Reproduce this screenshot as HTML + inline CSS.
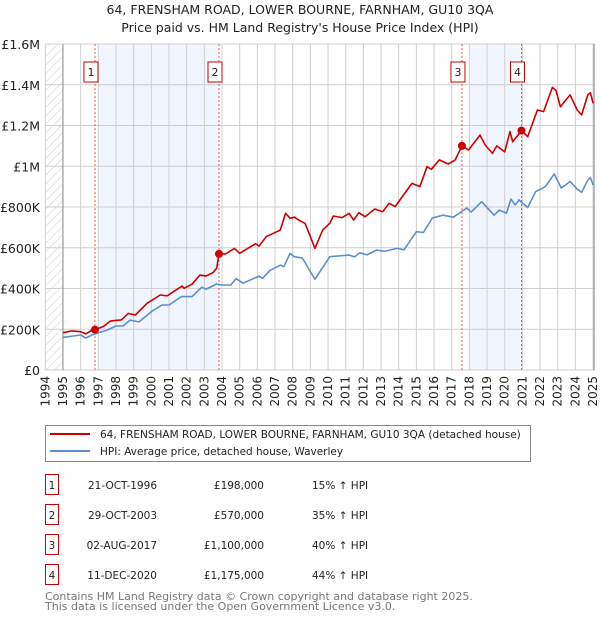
<!DOCTYPE html>
<html><head><meta charset="utf-8"><style>
body{margin:0;background:#fff;width:600px;height:620px;overflow:hidden;font-family:"Liberation Sans","DejaVu Sans",sans-serif;}
svg text{font-family:"DejaVu Sans","Liberation Sans",sans-serif;}
</style></head><body>
<svg id="c" width="600" height="620" xmlns="http://www.w3.org/2000/svg">
<defs><pattern id="hatch" width="6" height="6" patternUnits="userSpaceOnUse" patternTransform="rotate(45)"><line x1="0" y1="0" x2="0" y2="6" stroke="#ccc" stroke-width="1"/></pattern></defs>
<text x="300" y="14" text-anchor="middle" font-size="12.5" fill="#222">64, FRENSHAM ROAD, LOWER BOURNE, FARNHAM, GU10 3QA</text>
<text x="300" y="32" text-anchor="middle" font-size="12.5" fill="#222">Price paid vs. HM Land Registry's House Price Index (HPI)</text>
<g id="plot"></g>
<g>
<rect x="45.5" y="425.5" width="485" height="36" fill="#fff" stroke="#888"/>
<line x1="50" y1="434" x2="90" y2="434" stroke="#cc0000" stroke-width="2"/>
<text x="100" y="438" font-size="10.5" fill="#222">64, FRENSHAM ROAD, LOWER BOURNE, FARNHAM, GU10 3QA (detached house)</text>
<line x1="50" y1="451" x2="90" y2="451" stroke="#5b8fd0" stroke-width="2"/>
<text x="100" y="455" font-size="10.5" fill="#222">HPI: Average price, detached house, Waverley</text>
</g>
<g id="tbl"></g>
<text x="45" y="600" font-size="11" fill="#777">Contains HM Land Registry data © Crown copyright and database right 2025.</text>
<text x="45" y="610" font-size="11" fill="#777">This data is licensed under the Open Government Licence v3.0.</text>
</svg>
<script>
const yTicks=[0,200,400,600,800,1000,1200,1400,1600];
const yTickLabels=["£0","£200K","£400K","£600K","£800K","£1M","£1.2M","£1.4M","£1.6M"];
const years=[1994,1995,1996,1997,1998,1999,2000,2001,2002,2003,2004,2005,2006,2007,2008,2009,2010,2011,2012,2013,2014,2015,2016,2017,2018,2019,2020,2021,2022,2023,2024,2025];
const hpiT=[1995.0,1996.0,1996.3,1996.7,1997.5,1998.0,1998.4,1998.8,1999.3,2000.0,2000.6,2001.0,2001.7,2002.3,2002.85,2003.1,2003.7,2004.0,2004.5,2004.8,2005.2,2006.1,2006.3,2006.7,2007.3,2007.5,2007.85,2008.1,2008.55,2009.26,2010.1,2010.6,2011.2,2011.5,2011.8,2012.2,2012.75,2013.2,2013.9,2014.3,2015.0,2015.4,2015.9,2016.5,2017.1,2017.85,2018.1,2018.7,2019.4,2019.7,2020.1,2020.35,2020.6,2020.8,2021.3,2021.75,2022.3,2022.8,2023.2,2023.7,2024.1,2024.35,2024.7,2024.85,2025.0];
const hpiV=[160,172,157,174,196,216,216,245,236,286,319,319,360,360,406,397,422,417,417,448,426,461,450,488,515,507,572,556,549,445,556,560,564,555,575,565,589,582,597,590,679,675,746,760,750,795,775,826,760,785,770,839,810,835,797,875,900,962,893,925,888,872,932,945,908];
const propT=[1995.0,1995.5,1996.0,1996.3,1996.7,1996.8,1997.3,1997.7,1998.3,1998.7,1999.1,1999.75,2000.5,2000.9,2001.4,2001.75,2001.85,2002.3,2002.75,2003.1,2003.5,2003.7,2003.83,2004.2,2004.7,2005.0,2005.9,2006.1,2006.5,2007.1,2007.3,2007.6,2007.85,2008.1,2008.4,2008.7,2009.0,2009.26,2009.7,2010.1,2010.3,2010.8,2011.2,2011.45,2011.75,2012.1,2012.65,2013.1,2013.45,2013.8,2014.3,2014.75,2015.2,2015.6,2015.85,2016.3,2016.8,2017.2,2017.58,2017.95,2018.6,2018.9,2019.3,2019.55,2020.0,2020.3,2020.45,2020.95,2021.3,2021.85,2022.2,2022.7,2022.9,2023.15,2023.7,2024.1,2024.35,2024.7,2024.85,2025.0];
const propV=[183,192,188,177,200,198,214,241,246,278,270,327,368,364,393,412,401,421,466,461,479,500,570,570,597,573,620,608,654,679,687,769,745,750,733,720,654,597,687,720,756,748,769,736,772,752,790,777,818,802,862,916,900,998,985,1031,1011,1031,1100,1080,1153,1104,1063,1100,1071,1170,1120,1175,1145,1276,1268,1387,1372,1292,1350,1276,1252,1350,1361,1309];
const saleT=[1996.81,2003.83,2017.58,2020.95];
const saleV=[198,570,1100,1175];
const saleLabels=["1","2","3","4"];
const saleDates=["21-OCT-1996","29-OCT-2003","02-AUG-2017","11-DEC-2020"];
const salePrices=["£198,000","£570,000","£1,100,000","£1,175,000"];
const saleHpi=["15% ↑ HPI","35% ↑ HPI","40% ↑ HPI","44% ↑ HPI"];
const shadeFrom=[1997.0,2018.0], shadeTo=[2003.83,2020.95];

const NS="http://www.w3.org/2000/svg";
const X0=45.3,PX=17.67,Y0=370,PY=326/1600;
const sx=t=>X0+(t-1994)*PX, sy=v=>Y0-v*PY;
const plot=document.getElementById('plot');
function mk(tag,attrs,parent){const e=document.createElementNS(NS,tag);for(const k in attrs)e.setAttribute(k,attrs[k]);(parent||plot).appendChild(e);return e;}
let h=mk('rect',{x:sx(1994),y:sy(1600),width:sx(1995)-sx(1994),height:sy(0)-sy(1600),fill:'url(#hatch)'});


shadeFrom.forEach((f,i)=>{const r=mk('rect',{x:sx(f),y:sy(1600),width:sx(shadeTo[i])-sx(f),height:sy(0)-sy(1600),fill:'#eef3fc',opacity:0.8});

});
years.forEach(y=>{const l=mk('line',{x1:sx(y),x2:sx(y),y1:sy(1600),y2:sy(0),stroke:'#cfcfcf','stroke-width':1});


const t=mk('text',{x:0,y:0,transform:`translate(${sx(y)+4},${sy(0)+6}) rotate(-90)`,'text-anchor':'end','font-size':12,fill:'#222'});t.textContent=y;

});
yTicks.forEach((v,i)=>{const l=mk('line',{x1:sx(1994),x2:sx(2025)+2,y1:sy(v),y2:sy(v),stroke:'#cfcfcf','stroke-width':1});


const t=mk('text',{x:40,y:sy(v)+5,'text-anchor':'end','font-size':12.5,fill:'#222'});t.textContent=yTickLabels[i];

});
mk('line',{x1:sx(1995),x2:sx(1995),y1:sy(1600),y2:sy(0),stroke:'#888'});
mk('line',{x1:sx(2025)+1,x2:sx(2025)+1,y1:sy(1600),y2:sy(0),stroke:'#888'});
saleT.forEach((t,i)=>{const l=mk('line',{x1:sx(t),x2:sx(t),y1:sy(1600),y2:sy(0),stroke:'#ee5555','stroke-width':1,'stroke-dasharray':'2,2'});


const bx=sx(t)-4;
const r=mk('rect',{x:bx-7,y:62,width:14,height:20,fill:'#fff',stroke:'#cc0000'});


const tx=mk('text',{x:bx,y:76,'text-anchor':'middle','font-size':11,fill:'#222'});tx.textContent=saleLabels[i];

});
function path(T,V,col,name){const d=T.map((t,i)=>(i?'L':'M')+sx(t).toFixed(1)+','+sy(V[i]).toFixed(1)).join('');
const p=mk('path',{d:d,fill:'none',stroke:col,'stroke-width':1.6,'stroke-linejoin':'round'});

}
path(hpiT,hpiV,'#5b8fd0','hpi-line');
path(propT,propV,'#cc0000','property-price-line');
saleT.forEach((t,i)=>{const c=mk('circle',{cx:sx(t),cy:sy(saleV[i]),r:4,fill:'#cc0000'});

});
const tbl=document.getElementById('tbl');
saleLabels.forEach((s,i)=>{const y=488+i*30;
const r=mk('rect',{x:45.5,y:y-13.5,width:13,height:20,fill:'#fff',stroke:'#cc0000'},tbl);


const cells=[[52,'middle',s],[157,'end',saleDates[i]],[264,'end',salePrices[i]],[312,'start',saleHpi[i]]];
cells.forEach(c=>{const t=mk('text',{x:c[0],y:y+1,'text-anchor':c[1],'font-size':10.5,fill:'#222'},tbl);t.textContent=c[2];

});});
</script>
</body></html>
